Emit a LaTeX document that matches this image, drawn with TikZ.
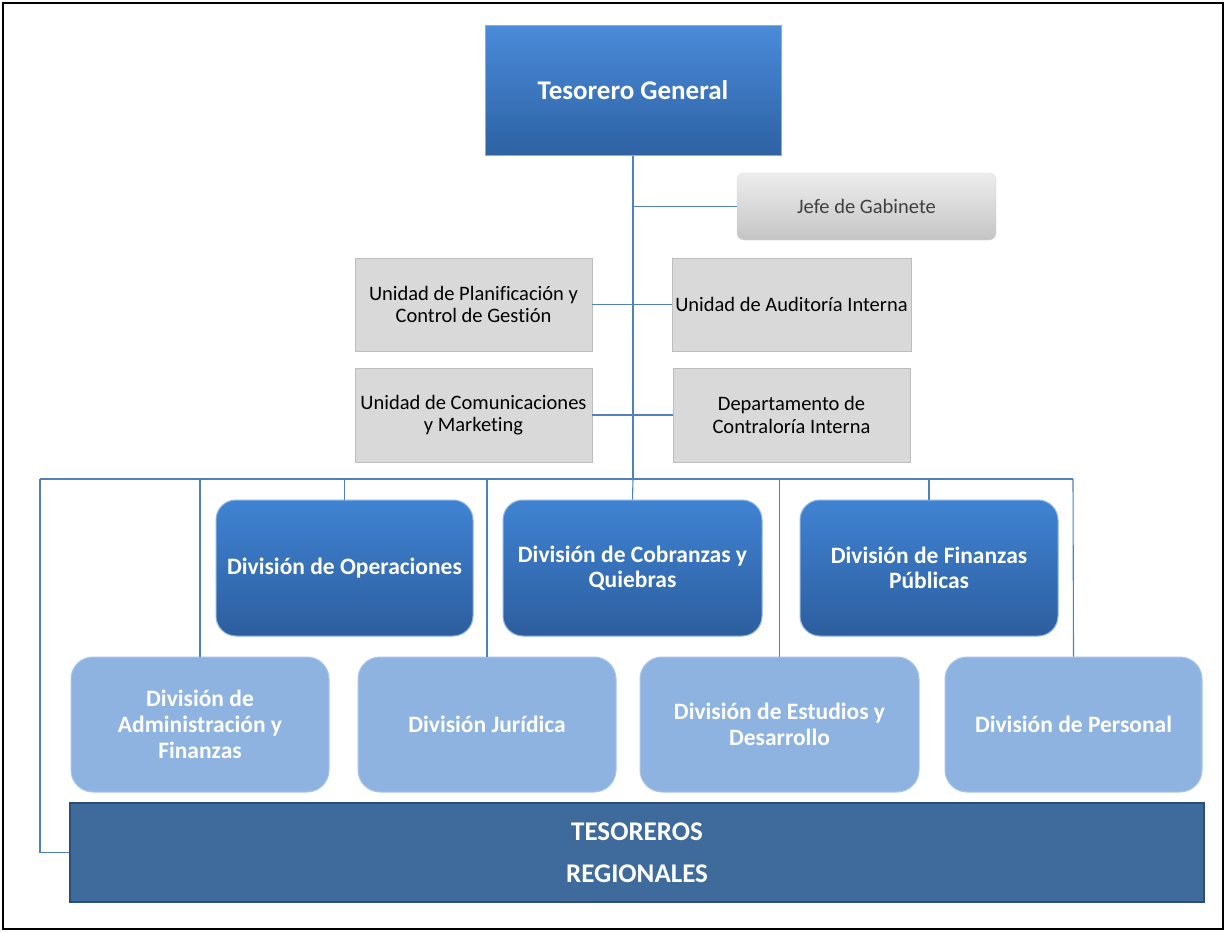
\documentclass[tikz,border=0pt]{standalone}
\usepackage{fontspec}
\setmainfont[Ligatures={NoCommon}]{Carlito}
\usetikzlibrary{calc}
\definecolor{linkblue}{HTML}{4F81BD}
\definecolor{topA}{HTML}{4A8BDA}
\definecolor{topB}{HTML}{2E62A3}
\definecolor{divA}{HTML}{4083D3}
\definecolor{divB}{HTML}{2D5E9E}
\definecolor{lightdiv}{HTML}{8EB3E1}
\definecolor{lightedge}{HTML}{A9C6EA}
\definecolor{unitgray}{HTML}{D9D9D9}
\definecolor{unitedge}{HTML}{BDBDBD}
\definecolor{regblue}{HTML}{3E6A9C}
\definecolor{regedge}{HTML}{2B4E78}
\tikzset{
  x=1pt, y=-1pt,
  link/.style={draw=linkblue, line width=1.1pt},
  trunk/.style={draw=linkblue, line width=1.8pt},
  headbox/.style={rectangle, top color=topA, bottom color=topB, draw=topA!70!white,
    line width=1pt, text=white, font=\fontsize{27}{31}\selectfont\bfseries, align=center},
  cabinetbox/.style={rectangle, rounded corners=7pt, top color=black!7, bottom color=black!23,
    draw=black!15, text=black!75, font=\fontsize{20.5}{24}\selectfont, align=center},
  unitbox/.style={rectangle, fill=unitgray, draw=unitedge, line width=0.8pt, text=black,
    font=\fontsize{20.5}{22.5}\selectfont, align=center},
  divbox/.style={rectangle, rounded corners=20pt, top color=divA, bottom color=divB,
    draw=divA!60!white, line width=1pt, text=white,
    font=\fontsize{23.5}{25.5}\selectfont\bfseries, align=center},
  subdivbox/.style={rectangle, rounded corners=22pt, fill=lightdiv, draw=lightedge,
    line width=1pt, text=white, font=\fontsize{23.5}{26}\selectfont\bfseries, align=center},
  regionbox/.style={rectangle, fill=regblue, draw=regedge, line width=1.5pt, text=white,
    font=\fontsize{27}{42}\selectfont\bfseries, align=center},
}
\begin{document}
\begin{tikzpicture}
  % page and outer frame
  \useasboundingbox (0,0) rectangle (1226,932);
  \fill[white] (0,0) rectangle (1226,932);
  \draw[black, line width=2pt] (3,3) rectangle (1223,929);

  % top of the hierarchy
  \node[headbox, minimum width=296pt, minimum height=130pt] (tg) at (633,90) {Tesorero General};

  % staff units
  \node[cabinetbox, minimum width=259pt, minimum height=67pt] (jg) at (866.5,206.5) {Jefe de Gabinete};
  \node[unitbox, minimum width=237pt, minimum height=93pt] (upc) at (473.5,304.5) {Unidad de Planificación y\\Control de Gestión};
  \node[unitbox, minimum width=237pt, minimum height=93pt] (uai) at (791.5,304.5) {Unidad de Auditoría Interna};
  \node[unitbox, minimum width=237pt, minimum height=94pt] (ucm) at (473.5,415) {Unidad de Comunicaciones\\y Marketing};
  \node[unitbox, minimum width=237pt, minimum height=94pt] (dci) at (791.5,415) {Departamento de\\Contraloría Interna};

  % first row of divisions
  \node[divbox, minimum width=257pt, minimum height=136pt] (dop) at (344.5,568) {División de Operaciones};
  \node[divbox, minimum width=259pt, minimum height=136pt] (dcq) at (632.5,568) {División de Cobranzas y\\Quiebras};
  \node[divbox, minimum width=258pt, minimum height=136pt] (dfp) at (929,568) {División de Finanzas\\Públicas};

  % second row of divisions
  \node[subdivbox, minimum width=258pt, minimum height=135pt] (dad) at (200,724.5) {División de\\Administración y\\Finanzas};
  \node[subdivbox, minimum width=258pt, minimum height=135pt] (dju) at (487,724.5) {División Jurídica};
  \node[subdivbox, minimum width=279pt, minimum height=135pt] (ded) at (779.5,724.5) {División de Estudios y\\Desarrollo};
  \node[subdivbox, minimum width=257pt, minimum height=135pt] (dpe) at (1073.5,724.5) {División de Personal};

  % regional treasurers
  \node[regionbox, minimum width=1134pt, minimum height=99pt] (tr) at (637,852.5) {TESOREROS\\REGIONALES};

  % bus coordinates
  \coordinate (busL) at (40,479);
  \coordinate (busR) at (1073,479);
  \coordinate (busC) at (tg.south |- busL);

  % connectors
  \draw[trunk] (tg.south) -- (busC);
  \draw[link] (tg.south |- jg.west) -- (jg.west);
  \draw[link] (upc.east) -- (uai.west);
  \draw[link] (ucm.east) -- (dci.west);
  \draw[link] (busL) -- (busR);
  \draw[link] (busL) |- (tr.west);
  \draw[link] (dop.north |- busL) -- (dop.north);
  \draw[link] (busC) -- (dcq.north);
  \draw[link] (dfp.north |- busL) -- (dfp.north);
  \draw[link] (dad.north |- busL) -- (dad.north);
  \draw[link] (dju.north |- busL) -- (dju.north);
  \draw[link] (ded.north |- busL) -- (ded.north);
  \draw[link] (busR) -- (dpe.north);
\end{tikzpicture}
\end{document}
